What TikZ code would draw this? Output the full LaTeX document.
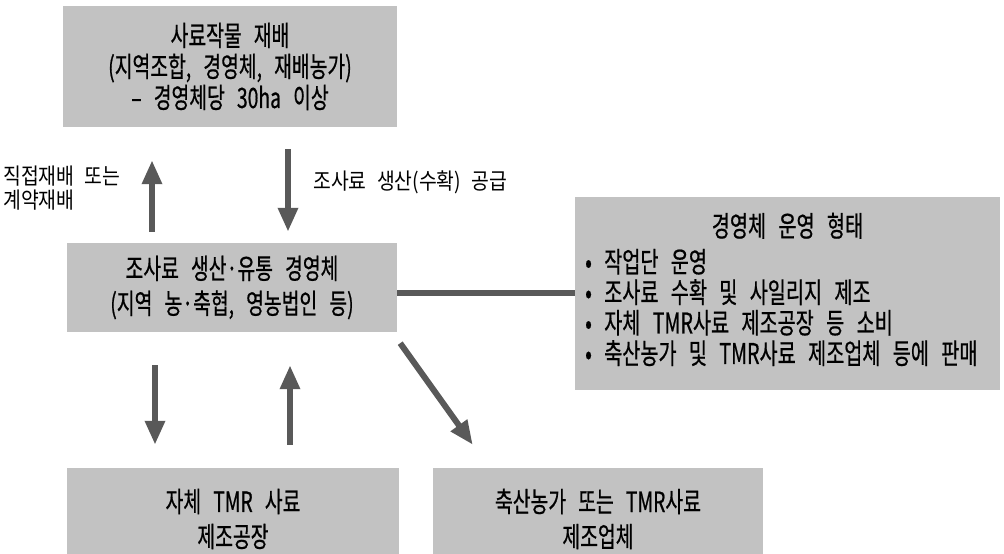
\documentclass[tikz,border=0pt]{standalone}
\usepackage{fontspec}
\usetikzlibrary{arrows.meta,positioning}
\newfontfamily\krbox[FakeStretch=0.69,WordSpace=2.8,FakeBold=0.6]{Noto Sans CJK KR}
\newfontfamily\krnote[FakeStretch=0.86,WordSpace=2.4]{Noto Sans CJK KR}
\newcommand\boxfont{\krbox\fontsize{28}{31}\selectfont\lineskiplimit=-100pt\relax}
\newcommand\opsfont{\krbox\fontsize{28.5}{30.5}\selectfont\lineskiplimit=-100pt\relax}
\newcommand\notefont{\krnote\fontsize{22.5}{24}\selectfont\lineskiplimit=-100pt\relax}

\begin{document}
\begin{tikzpicture}[x=1pt,y=1pt,
    box/.style={fill=black!24, inner sep=0pt, align=center, font=\boxfont},
    flow/.style={draw=black!65, line width=6pt, -{Triangle[width=19pt,length=24pt]}},
    bar/.style={draw=black!65, line width=6pt},
    note/.style={align=left, inner sep=0pt, font=\notefont}]
    \useasboundingbox (0,0) rectangle (1004,554);
    \clip (0,0) rectangle (1004,554);
    % boxes
    \node[box, minimum width=334pt, minimum height=121pt] (crop) at (230,487.5)
        {사료작물 재배\\(지역조합, 경영체, 재배농가)\\– 경영체당 30ha 이상};
    \node[box, minimum width=330pt, minimum height=89pt] (hub) at (232,266.5)
        {조사료 생산·유통 경영체\\[4pt](지역 농·축협, 영농법인 등)};
    \node[box, minimum width=425pt, minimum height=193pt] (ops) at (787.5,260.5) {};
    \node[box, fill=none, font=\opsfont] (opstitle) at ([yshift=-29pt]ops.north) {경영체 운영 형태};
    \node[box, fill=none, anchor=west, align=left, font=\opsfont] (opslist) at (585,246.5)
        {• 작업단 운영\\• 조사료 수확 및 사일리지 제조\\• 자체 TMR사료 제조공장 등 소비\\• 축산농가 및 TMR사료 제조업체 등에 판매};
    \node[box, minimum width=332pt, minimum height=102pt] (tmr) at (233,35)
        {자체 TMR 사료\\[4pt]제조공장};
    \node[box, minimum width=330pt, minimum height=102pt] (firm) at (598,35)
        {축산농가 또는 TMR사료\\[4pt]제조업체};
    % labels
    \node[note, anchor=west] (direct) at (3,365.5) {직접재배 또는\\계약재배};
    \node[note, anchor=west] (supply) at (313,372) {조사료 생산(수확) 공급};
    % connectors
    \draw[flow] ([xshift=-80pt,yshift=11pt]hub.north) -- ([xshift=-78pt,yshift=-33pt]crop.south);
    \draw[flow] ([xshift=58pt,yshift=-22pt]crop.south) -- ([xshift=56pt,yshift=11pt]hub.north);
    \draw[bar] (hub.east |- ops.west) -- (ops.west);
    \draw[flow] ([xshift=-77pt,yshift=-33pt]hub.south) -- ([xshift=-78pt,yshift=23pt]tmr.north);
    \draw[flow] ([xshift=57pt,yshift=23pt]tmr.north) -- ([xshift=58pt,yshift=-33pt]hub.south);
    \draw[flow] ([shift={(3pt,-11pt)}]hub.south east) -- ([shift={(40pt,23pt)}]firm.north west);
\end{tikzpicture}
\end{document}
